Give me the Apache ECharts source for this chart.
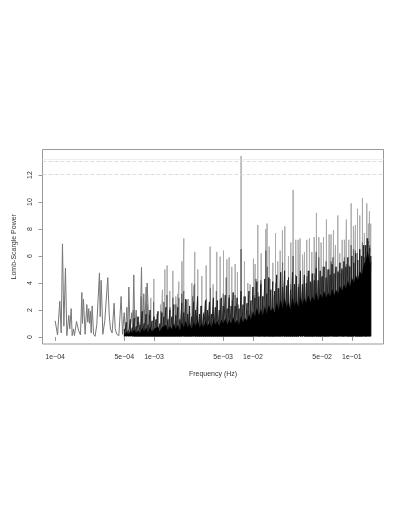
<!DOCTYPE html>
<html>
<head>
<meta charset="utf-8">
<style>
  html, body { margin: 0; padding: 0; background: #fff; }
  #chart { width: 409px; height: 529px; }
</style>
<script src="https://cdn.jsdelivr.net/npm/echarts@6/dist/echarts.min.js"></script>
</head>
<body>
<div id="chart"></div>
<script>
// x values are log10(frequency in Hz)
const xTicks = [-4, -3.301, -3, -2.301, -2, -1.301, -1]
const xTickLabels = ['1e\u221204', '5e\u221204', '1e\u221203', '5e\u221203', '1e\u221202', '5e\u221202', '1e\u221201']
const yTicks = [0, 2, 4, 6, 8, 10, 12]
const thresholds = [13.17, 13.0, 12.08]

// low frequency part, where the curve is still readable
const lowLogFreq = [-4, -3.976, -3.953, -3.939, -3.926, -3.912, -3.896, -3.882, -3.862, -3.852, -3.838, -3.828, -3.815, -3.805, -3.784, -3.764, -3.744, -3.73, -3.724, -3.714, -3.697, -3.68, -3.67, -3.66, -3.653, -3.643, -3.636, -3.626, -3.612, -3.596, -3.579, -3.565, -3.552, -3.545, -3.535, -3.525, -3.518, -3.498, -3.484, -3.468, -3.454, -3.441, -3.424, -3.404, -3.393, -3.377, -3.356, -3.333, -3.319, -3.302, -3.289, -3.275, -3.265, -3.255, -3.242, -3.225, -3.215, -3.205, -3.195, -3.181, -3.171, -3.154, -3.141, -3.127, -3.117, -3.104, -3.093, -3.08, -3.073, -3.07, -3.05]
const lowPower = [1.2, 0.15, 2.65, 0.3, 6.9, 0.8, 5.1, 0.1, 1.6, 0.6, 2.1, 0.1, 0.6, 0.1, 1.15, 0.5, 0.15, 3.3, 1, 2.8, 0.2, 2.4, 1.1, 2.1, 1, 1.9, 0.3, 2.3, 0.2, 0.05, 0.9, 2.9, 4.75, 1.5, 4.2, 2, 0.2, 1.2, 1.3, 4.4, 1.7, 0.6, 0.3, 2.5, 0.6, 0.2, 0.1, 3, 0.2, 1.8, 0.3, 2.2, 0.3, 3.7, 0.5, 1.8, 0.4, 4.6, 0.6, 2, 0.5, 1.1, 0.3, 5.15, 0.5, 3.2, 0.6, 3.7, 0.6, 4, 0.4]

// tallest spikes (light grey)
const peakLogFreq = [-3.033, -3.002, -2.972, -2.935, -2.915, -2.891, -2.868, -2.841, -2.81, -2.78, -2.76, -2.75, -2.719, -2.699, -2.665, -2.652, -2.618, -2.601, -2.588, -2.558, -2.517, -2.473, -2.433, -2.403, -2.366, -2.332, -2.298, -2.264, -2.241, -2.214, -2.18, -2.157, -2.12, -2.086, -2.052, -2.029, -1.995, -1.978, -1.951, -1.917, -1.87, -1.857, -1.836, -1.799, -1.772, -1.749, -1.725, -1.702, -1.678, -1.641, -1.617, -1.594, -1.567, -1.543, -1.523, -1.499, -1.479, -1.456, -1.429, -1.405, -1.381, -1.358, -1.334, -1.311, -1.287, -1.257, -1.23, -1.21, -1.186, -1.166, -1.142, -1.122, -1.098, -1.075, -1.055, -1.031, -1.007, -0.984, -0.964, -0.943, -0.92, -0.893, -0.873, -0.849, -0.832, -0.822, -0.809]
const peakPower = [2.9, 4.3, 1.7, 2.4, 3.5, 5, 5.3, 3.4, 4.9, 3, 3.2, 4.1, 5.6, 7.3, 2.8, 2.8, 4, 3.8, 6.3, 5, 4.5, 5.3, 6.7, 3.9, 6.3, 5.95, 6.4, 5.75, 5.9, 5.2, 5.4, 4.8, 13.4, 5.6, 4, 3.9, 5.8, 5.4, 8.3, 6.2, 8, 8.4, 6.7, 5.5, 7.7, 5.6, 6.4, 7.9, 8.2, 6, 7, 10.9, 7.2, 7.2, 7.3, 6.1, 6.3, 7.2, 7.3, 6.3, 7.4, 9.2, 7.4, 7, 7.4, 8.7, 7.6, 7.6, 7.9, 6.8, 9, 6.2, 7.2, 7.2, 8.7, 7.2, 9.9, 8.2, 8.3, 9.5, 9, 10.3, 7.7, 9.9, 8.4, 9.3, 8.4]

// second tier of spikes (dark grey)
const midLogFreq = [-3.21, -3.17, -3.13, -3.1, -3.07, -3.04, -3.005, -2.97, -2.93, -2.9, -2.87, -2.84, -2.81, -2.78, -2.75, -2.72, -2.7, -2.67, -2.64, -2.61, -2.59, -2.56, -2.53, -2.5, -2.47, -2.43, -2.4, -2.37, -2.33, -2.3, -2.27, -2.24, -2.21, -2.18, -2.15, -2.12, -2.09, -2.05, -2.02, -1.99, -1.97, -1.95, -1.92, -1.9, -1.87, -1.855, -1.83, -1.8, -1.77, -1.75, -1.72, -1.7, -1.68, -1.65, -1.62, -1.594, -1.57, -1.54, -1.52, -1.5, -1.48, -1.455, -1.43, -1.405, -1.38, -1.36, -1.335, -1.31, -1.29, -1.26, -1.23, -1.21, -1.19, -1.165, -1.14, -1.12, -1.1, -1.075, -1.055, -1.03, -1.007, -0.984, -0.964, -0.943, -0.92, -0.893, -0.873, -0.85, -0.832, -0.82, -0.809]
const midPower = [2, 1.5, 3, 2, 2.4, 1.6, 2.6, 1.3, 1.9, 2.6, 3.1, 2.2, 2.9, 2.4, 2.9, 3.2, 3.4, 2.7, 1.8, 3, 3.9, 2.7, 2.3, 1.8, 2.8, 3.6, 1.9, 3.4, 2.8, 3.2, 4.4, 3.1, 2.7, 3.1, 2.4, 6.5, 3, 2, 1.9, 3.1, 4.3, 3.3, 4.2, 3, 6.4, 5.2, 4.3, 3.1, 4, 3.6, 4.7, 5.5, 4.5, 4.2, 3.9, 6, 4.6, 3.9, 4.3, 3.4, 3.9, 4.5, 4.9, 4, 4.7, 6.3, 5.9, 4.4, 5.2, 5.6, 5, 5.6, 5.9, 5, 4.9, 4.7, 5.1, 5.9, 5.4, 5.3, 6.8, 6.5, 6.4, 6.2, 6.1, 7, 5.9, 7.3, 7.1, 6.8, 5.6]

// where the spikes are too dense to tell apart: tops of the black fingers and of the solid part
const bodyLogFreq = [-3.3, -3.28, -3.26, -3.24, -3.22, -3.2, -3.18, -3.16, -3.14, -3.12,
  -3.1, -3.08, -3.06, -3.04, -3.02, -3, -2.98, -2.96, -2.94, -2.92,
  -2.9, -2.88, -2.86, -2.84, -2.82, -2.8, -2.78, -2.76, -2.74, -2.72,
  -2.7, -2.68, -2.66, -2.64, -2.62, -2.6, -2.58, -2.56, -2.54, -2.52,
  -2.5, -2.48, -2.46, -2.44, -2.42, -2.4, -2.38, -2.36, -2.34, -2.32,
  -2.3, -2.28, -2.26, -2.24, -2.22, -2.2, -2.18, -2.16, -2.14, -2.12,
  -2.1, -2.08, -2.06, -2.04, -2.02, -2, -1.98, -1.96, -1.94, -1.92,
  -1.9, -1.88, -1.86, -1.84, -1.82, -1.8, -1.78, -1.76, -1.74, -1.72,
  -1.7, -1.68, -1.66, -1.64, -1.62, -1.6, -1.58, -1.56, -1.54, -1.52,
  -1.5, -1.48, -1.46, -1.44, -1.42, -1.4, -1.38, -1.36, -1.34, -1.32,
  -1.3, -1.28, -1.26, -1.24, -1.22, -1.2, -1.18, -1.16, -1.14, -1.12,
  -1.1, -1.08, -1.06, -1.04, -1.02, -1, -0.98, -0.96, -0.94, -0.92,
  -0.9, -0.88, -0.86, -0.84, -0.82, -0.809]
const bodyPower = [0.2, 0.4, 0.2, 0.5, 0.3, 0.6, 0.3, 0.5, 0.3, 0.7,
  0.4, 0.7, 0.3, 0.8, 0.4, 0.6, 0.5, 0.8, 0.4, 0.7,
  0.6, 0.9, 0.5, 0.8, 0.6, 1, 0.6, 0.9, 0.5, 1.1,
  0.7, 1.2, 0.7, 1, 0.6, 1.1, 0.8, 1.3, 0.7, 1,
  0.7, 1.2, 0.8, 1.1, 0.7, 1.3, 0.9, 1.2, 0.8, 1.3,
  1, 1.4, 0.9, 1.3, 1, 1.5, 1, 1.3, 0.9, 1.6,
  1.1, 1.4, 1.2, 1.7, 1.3, 1.9, 1.5, 2.2, 1.6, 2.1,
  1.6, 2.3, 1.7, 2.4, 1.9, 2.2, 1.8, 2.6, 2, 2.8,
  2.1, 2.9, 2.2, 2.6, 2, 2.9, 2.3, 2.7, 2.2, 3,
  2.4, 2.9, 2.5, 3.1, 2.6, 3, 2.7, 3.3, 2.7, 3.2,
  2.9, 3.4, 2.9, 3.3, 3, 3.6, 3.1, 3.5, 3.2, 3.8,
  3.4, 3.9, 3.6, 4.2, 3.7, 4.4, 4, 4.6, 4.2, 4.9,
  4.6, 5.4, 5.6, 6.4, 5.6, 5.4]
const fingerPower = [0.6, 1.1, 0.5, 1.3, 0.7, 1.4, 0.8, 1.5, 0.9, 1.9,
  1, 1.7, 0.9, 2, 1.2, 1.5, 1.3, 1.9, 1, 1.8,
  1.5, 2.2, 1.3, 2, 1.5, 2.4, 1.6, 2.2, 1.3, 2.5,
  1.8, 2.8, 1.7, 2.3, 1.5, 2.6, 2, 3, 1.7, 2.3,
  1.7, 2.7, 2, 2.6, 1.7, 2.9, 2.2, 2.7, 2, 2.9,
  2.3, 3.1, 2.1, 2.9, 2.3, 3.3, 2.3, 2.9, 2.1, 3.4,
  2.4, 3, 2.5, 3.4, 2.7, 3.7, 2.9, 4.1, 3, 3.9,
  3, 4.3, 3.2, 4.4, 3.5, 4.1, 3.4, 4.6, 3.6, 4.8,
  3.7, 4.9, 3.8, 4.4, 3.5, 4.8, 3.9, 4.5, 3.7, 4.9,
  3.9, 4.6, 4, 4.9, 4.1, 4.7, 4.2, 5.1, 4.2, 4.9,
  4.5, 5.2, 4.4, 5, 4.6, 5.4, 4.7, 5.2, 4.8, 5.5,
  5, 5.6, 5.2, 5.9, 5.2, 6, 5.5, 6.2, 5.7, 6.5,
  6, 6.8, 6.8, 7.3, 6.6, 6]

const zip = (xs, ys) => xs.map((x, i) => [x, ys[i]])
// every spike goes up from the baseline and back down
const spikes = (xs, ys) => {
  const out = []
  xs.forEach((x, i) => {
    out.push([x, 0.05], [x, ys[i]], [x, 0.05])
  })
  return out
}

const chart = echarts.init(document.getElementById('chart'))
const textColor = '#333'
const fontFamily = '"Liberation Sans", Arial, sans-serif'

chart.setOption({
  animation: false,
  backgroundColor: '#fff',
  grid: { left: 42.5, right: 25.5, top: 149.5, bottom: 185, show: true, borderColor: '#999', borderWidth: 1 },
  xAxis: {
    type: 'value',
    min: -4.128,
    max: -0.68,
    name: 'Frequency (Hz)',
    nameLocation: 'middle',
    nameGap: 27,
    nameTextStyle: { color: textColor, fontSize: 7, fontFamily },
    axisLine: { show: false },
    axisTick: { show: true, length: 4, customValues: xTicks, lineStyle: { color: '#999', width: 1 } },
    axisLabel: {
      customValues: xTicks,
      color: textColor,
      fontSize: 7,
      fontFamily,
      margin: 10,
      formatter: (value) => xTickLabels[xTicks.indexOf(value)]
    },
    splitLine: { show: false }
  },
  yAxis: {
    type: 'value',
    min: -0.52,
    max: 13.89,
    name: 'Lomb-Scargle Power',
    nameLocation: 'middle',
    nameGap: 25,
    nameTextStyle: { color: textColor, fontSize: 7, fontFamily },
    axisLine: { show: false },
    axisTick: { show: true, length: 4, customValues: yTicks, lineStyle: { color: '#999', width: 1 } },
    axisLabel: { customValues: yTicks, rotate: 90, color: textColor, fontSize: 7, fontFamily, margin: 9 },
    splitLine: { show: false }
  },
  series: [
    {
      type: 'line',
      name: 'peaks',
      z: 1,
      data: spikes(peakLogFreq, peakPower),
      showSymbol: false,
      lineStyle: { color: '#aaa', width: 1 },
      markLine: {
        silent: true,
        symbol: 'none',
        label: { show: false },
        lineStyle: { color: '#ddd', width: 1, type: 'dashed' },
        data: [
          { yAxis: thresholds[0], lineStyle: { type: 'dotted' } },
          { yAxis: thresholds[1] },
          { yAxis: thresholds[2] }
        ]
      }
    },
    {
      type: 'line',
      name: 'mid',
      z: 2,
      data: spikes(midLogFreq, midPower),
      showSymbol: false,
      lineStyle: { color: '#666', width: 1 }
    },
    {
      type: 'line',
      name: 'low',
      z: 3,
      data: zip(lowLogFreq, lowPower),
      showSymbol: false,
      lineStyle: { color: '#777', width: 1 }
    },
    {
      type: 'line',
      name: 'fingers',
      z: 4,
      data: spikes(bodyLogFreq, fingerPower),
      showSymbol: false,
      lineStyle: { color: '#222', width: 1 }
    },
    {
      type: 'line',
      name: 'body',
      z: 5,
      data: zip(bodyLogFreq, bodyPower),
      showSymbol: false,
      lineStyle: { width: 0 },
      areaStyle: { color: '#000', opacity: 1, origin: 0.05 }
    }
  ]
})
</script>
</body>
</html>
